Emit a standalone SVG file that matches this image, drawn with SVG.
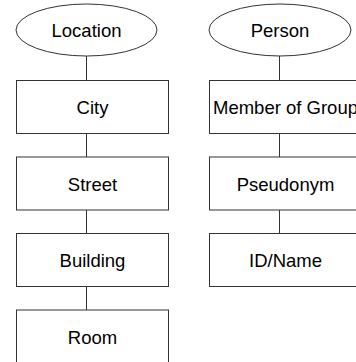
<svg xmlns="http://www.w3.org/2000/svg" width="356" height="362" viewBox="0 0 356 362">
<style>
.n{fill:#fff;stroke:#333;stroke-width:1}
.c{stroke:#333;stroke-width:1;fill:none}
text{font-family:"Liberation Sans",Arial,sans-serif;font-size:18.5px;fill:#000;text-anchor:middle}
</style>
<rect width="356" height="362" fill="#fff"/>
<g id="connectors">
<line class="c" x1="86.5" y1="56" x2="86.5" y2="80.5"/>
<line class="c" x1="86.5" y1="133.5" x2="86.5" y2="157"/>
<line class="c" x1="86.5" y1="210" x2="86.5" y2="233.5"/>
<line class="c" x1="86.5" y1="286.5" x2="86.5" y2="310"/>
<line class="c" x1="279.5" y1="56" x2="279.5" y2="80.5"/>
<line class="c" x1="279.5" y1="133.5" x2="279.5" y2="157"/>
<line class="c" x1="279.5" y1="210" x2="279.5" y2="233.5"/>
</g>
<g id="location"><ellipse class="n" cx="86.5" cy="30" rx="70.5" ry="26"/><text x="86.5" y="37">Location</text></g>
<g id="city"><rect class="n" x="16.5" y="80.5" width="152" height="53"/><text x="92.5" y="114">City</text></g>
<g id="street"><rect class="n" x="16.5" y="157" width="152" height="53"/><text x="92.5" y="190.5">Street</text></g>
<g id="building"><rect class="n" x="16.5" y="233.5" width="152" height="53"/><text x="92.5" y="267">Building</text></g>
<g id="room"><rect class="n" x="16.5" y="310" width="152" height="53"/><text x="92.5" y="343.5">Room</text></g>
<g id="person"><ellipse class="n" cx="280" cy="30" rx="71" ry="26"/><text x="280" y="37">Person</text></g>
<g id="member"><rect class="n" x="209.5" y="80.5" width="152" height="53"/><text x="285.5" y="114">Member of Group</text></g>
<g id="pseudonym"><rect class="n" x="209.5" y="157" width="152" height="53"/><text x="285.5" y="190.5">Pseudonym</text></g>
<g id="idname"><rect class="n" x="209.5" y="233.5" width="152" height="53"/><text x="285.5" y="267">ID/Name</text></g>
</svg>
